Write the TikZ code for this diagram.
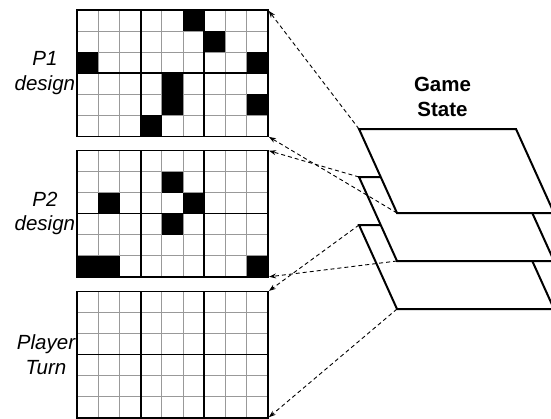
\documentclass[tikz,border=0pt]{standalone}
\usepackage{fontspec}
\setmainfont{Liberation Sans}
\usetikzlibrary{arrows.meta,calc}
\tikzset{
  board/.style={minimum width=190.4pt,minimum height=126pt,inner sep=0pt,anchor=north west},
  boardlabel/.style={font=\itshape\fontsize{20.5}{24.5}\selectfont,align=center,anchor=east,inner sep=2pt},
  thin/.style={draw=gray!80,line width=0.9pt},
  thick3/.style={draw=black,line width=1.5pt},
  frame/.style={draw=black,line width=1.8pt},
  plane/.style={draw,fill=white,line width=2pt,line join=miter},
  link/.style={dash pattern=on 4pt off 3pt,line width=0.9pt,-{Stealth[length=7pt,width=5pt]},shorten >=1pt}
}
\begin{document}
\begin{tikzpicture}[x=1pt,y=-1pt]
\useasboundingbox (0,0) rectangle (551,418);
\clip (0,0) rectangle (551,418);

% the three boards
\node[board] (p1) at (77.3,10) {};
\node[board] (p2) at (77.3,150.5) {};
\node[board] (turn) at (77.3,291.5) {};

\node[boardlabel] (p1lab) at (p1.west) {P1\\design};
\node[boardlabel] (p2lab) at (p2.west) {P2\\design};
\node[boardlabel] (turnlab) at (turn.west) {Player\\Turn};

\foreach \b in {p1,p2,turn} {
  \foreach \i in {1,...,8}
    \draw[thin] ($(\b.north west)+(\i*21.15,0)$) -- ++(0,126);
  \foreach \j in {1,...,5}
    \draw[thin] ($(\b.north west)+(0,\j*21)$) -- ++(190.4,0);
}

% black cells (column/row)
\foreach \c/\r in {5/0,6/1,0/2,8/2,4/3,4/4,8/4,3/5}
  \fill ($(p1.north west)+(\c*21.15,\r*21)$) rectangle ++(21.15,21);
\foreach \c/\r in {4/1,1/2,5/2,4/3,0/5,1/5,8/5}
  \fill ($(p2.north west)+(\c*21.15,\r*21)$) rectangle ++(21.15,21);

\foreach \b in {p1,p2,turn} {
  \draw[thick3] ($(\b.north west)+(63.45,0)$) -- ++(0,126);
  \draw[thick3] ($(\b.north west)+(126.9,0)$) -- ++(0,126);
  \draw[thick3] ($(\b.north west)+(0,63)$) -- ++(190.4,0);
  \draw[frame] (\b.north west) rectangle (\b.south east);
}

% game state layers
\node[font=\bfseries\fontsize{20.5}{25}\selectfont,align=center] (game) at (442.5,97) {Game\\State};
\draw[plane] (359,225) coordinate (c3) -- ++(157,0) -- ++(38,84) -- ++(-157,0) coordinate (d3) -- cycle;
\draw[plane] (359,177) coordinate (c2) -- ++(157,0) -- ++(38,84) -- ++(-157,0) coordinate (d2) -- cycle;
\draw[plane] (359,129) coordinate (c1) -- ++(157,0) -- ++(38,84) -- ++(-157,0) coordinate (d1) -- cycle;

\draw[link] (c1) -- (p1.north east);
\draw[link] (d1) -- (p1.south east);
\draw[link] (c2) -- (p2.north east);
\draw[link] (d2) -- (p2.south east);
\draw[link] (c3) -- (turn.north east);
\draw[link] (d3) -- (turn.south east);
\end{tikzpicture}
\end{document}
